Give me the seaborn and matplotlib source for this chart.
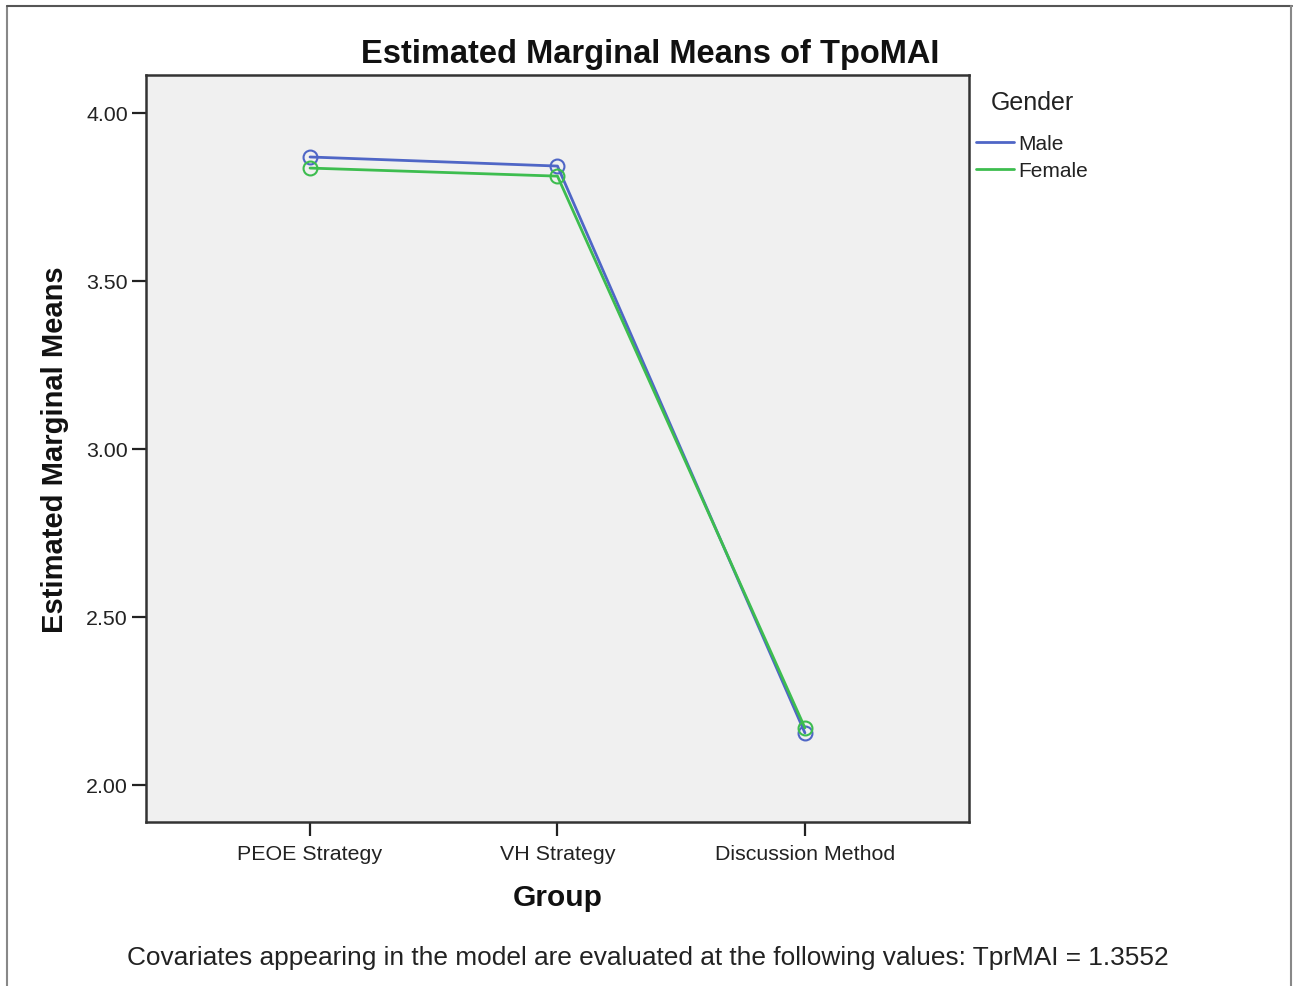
import pandas as pd
import seaborn as sns
import matplotlib.pyplot as plt
from matplotlib.lines import Line2D

groups = ['PEOE Strategy', 'VH Strategy', 'Discussion Method']
male_means = [3.869, 3.842, 2.155]
female_means = [3.836, 3.812, 2.170]
genders = ['Male', 'Female']
gender_colors = {'Male': '#4f66c6', 'Female': '#3dbd4f'}
y_ticks = [2.00, 2.50, 3.00, 3.50, 4.00]

df = pd.DataFrame({
    'Group': groups * 2,
    'Mean': male_means + female_means,
    'Gender': ['Male'] * 3 + ['Female'] * 3,
})

sns.set_style('white')
plt.rcParams['font.family'] = ['Liberation Sans', 'DejaVu Sans']

fig = plt.figure(figsize=(12.93, 9.87), dpi=100)
ax = fig.add_axes([0.1129, 0.1662, 0.6365, 0.7568])
ax.set_facecolor('#f0f0f0')

sns.lineplot(data=df, x='Group', y='Mean', hue='Gender', hue_order=genders,
             palette=gender_colors, marker='o', markersize=10, linewidth=2,
             sort=False, legend=False, ax=ax)
for line in ax.lines:
    line.set_markerfacecolor('none')
    line.set_markeredgecolor(line.get_color())
    line.set_markeredgewidth(1.5)

ax.set_xlim(-0.663, 2.663)
ax.set_ylim(1.89, 4.113)
ax.set_yticks(y_ticks)
ax.set_yticklabels([f'{v:.2f}' for v in y_ticks])
ax.tick_params(axis='both', direction='out', length=10, width=1.6, color='#222222',
               labelsize=15.4, labelcolor='#222222', left=True, bottom=True)
ax.tick_params(axis='y', pad=3)
ax.tick_params(axis='x', pad=6)
for sp in ax.spines.values():
    sp.set_visible(True)
    sp.set_color('#333333')
    sp.set_linewidth(1.8)

ax.set_xlabel('Group', fontsize=21.5, fontweight='bold', color='#111111')
ax.xaxis.set_label_coords(0.5, -0.082)
ax.set_ylabel('Estimated Marginal Means', fontsize=21, fontweight='bold', color='#111111')
ax.yaxis.set_label_coords(-0.093, 0.5)

fig.text(0.5027, 0.945, 'Estimated Marginal Means of TpoMAI', ha='center', va='center',
         fontsize=23.5, fontweight='bold', color='#111111')
fig.text(0.5012, 0.0294, 'Covariates appearing in the model are evaluated at the following values: TprMAI = 1.3552',
         ha='center', va='center', fontsize=18.9, color='#222222')

# legend: title as separate text to get the wider gap seen in the reference
fig.text(1032 / 1293, 1 - 103 / 987, 'Gender', ha='center', va='center',
         fontsize=18, color='#222222')
handles = [Line2D([0], [0], color=gender_colors[g], linewidth=2) for g in genders]
leg = fig.legend(handles, genders, loc='upper left',
                 bbox_to_anchor=(976 / 1293, 1 - 135 / 987), frameon=False,
                 fontsize=15, handlelength=1.8, handletextpad=0.25,
                 labelspacing=0.38, borderpad=0, borderaxespad=0)
for t in leg.get_texts():
    t.set_color('#222222')

# outer frame of the output window
fig.add_artist(Line2D([7 / 1293, 7 / 1293], [0, 1 - 7 / 987], transform=fig.transFigure, color='#888888', linewidth=1.5))
fig.add_artist(Line2D([7 / 1293, 1292 / 1293], [1 - 7 / 987, 1 - 7 / 987], transform=fig.transFigure, color='#555555', linewidth=1.5))
fig.add_artist(Line2D([1291 / 1293, 1291 / 1293], [0, 1 - 7 / 987], transform=fig.transFigure, color='#888888', linewidth=1.5))

fig.savefig('out.png', dpi=100, facecolor='white')
